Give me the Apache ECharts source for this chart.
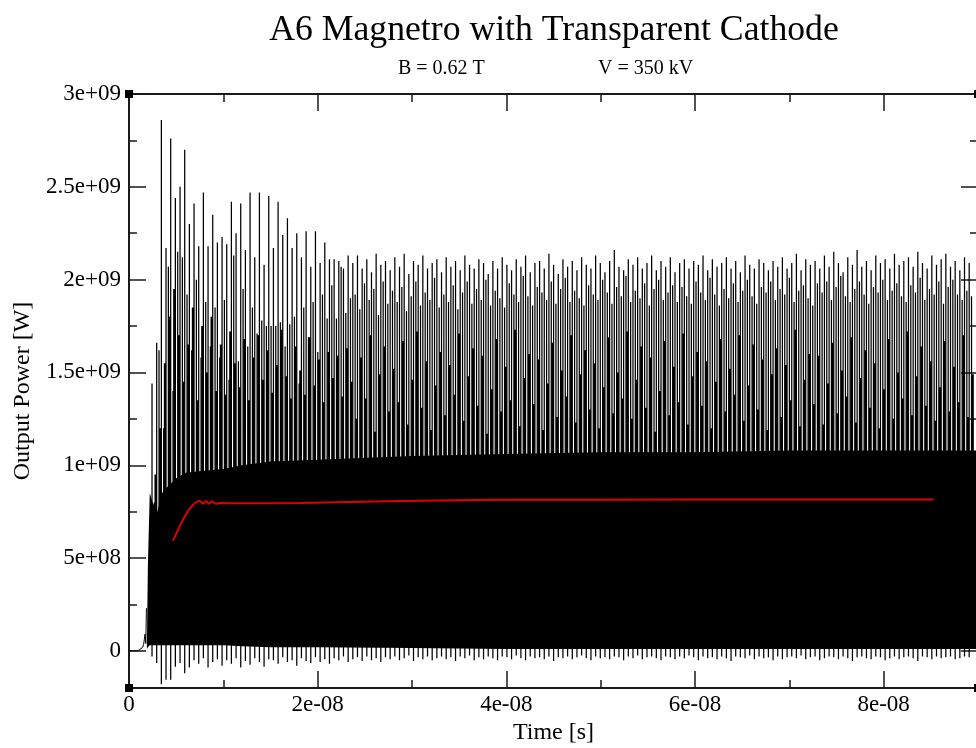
<!DOCTYPE html>
<html><head><meta charset="utf-8">
<script src="https://cdn.jsdelivr.net/npm/echarts@6/dist/echarts.min.js"></script>
<style>html,body{margin:0;padding:0;background:#fff}#c{width:976px;height:748px}</style>
</head><body><div id="c"></div>
<script>
// ---------- data (times in ns, powers in 1e8 W) ----------
const xMajorTicks = [0, 2, 4, 6, 8];          // x 1e-8
const xMinorTicks = [1, 3, 5, 7, 9];
const yMajorTicks = [0, 5, 10, 15, 20, 25, 30]; // y 1e8
const yMinorTicks = [2.5, 7.5, 12.5, 17.5, 22.5, 27.5];

// start-up trace before oscillation
const preT = [0, 0.8, 1.1, 1.3, 1.45, 1.55, 1.62, 1.7, 1.78, 1.85];
const preV = [0, 0, 0.05, 0.1, 0.2, 0.35, 0.6, 0.9, 0.4, 2.3];

// solid (unresolved) oscillation band
const bandT   = [1.9, 2.0, 2.2, 2.5, 3.0, 3.5, 4.0, 5.0, 6.0, 8.0, 10, 12, 15, 20, 30, 40, 50, 60, 70, 80, 90];
const bandTop = [0.4, 4.5, 8.5, 8.0, 7.5, 8.5, 8.8, 9.3, 9.6, 9.7, 9.8, 10.0, 10.2, 10.3, 10.5, 10.6, 10.7, 10.7, 10.8, 10.8, 10.8];
const bandBot = [0.1, 0.2, 0.3, 0.3, 0.3, 0.3, 0.3, 0.3, 0.3, 0.3, 0.3, 0.25, 0.2, 0.2, 0.15, 0.1, 0.1, 0.1, 0.1, 0.1, 0.1];

// resolved spikes: one slot per RF period
const spikeT0 = 2.44;   // ns
const spikeDT = 0.495;  // ns
const tallPeaks = [
14.4,16.6,28.6,21.7,27.6,24.4,25.0,27.0,23.0,24.1,
21.8,24.7,21.8,23.5,22.0,22.3,21.9,24.2,22.5,24.1,
21.6,24.7,21.2,24.7,20.8,24.5,21.7,24.2,22.4,23.3,
21.7,22.5,21.2,22.6,20.7,22.6,20.9,22.0,21.1,21.1,
21.0,20.6,21.3,
20.9,21.3,20.6,21.1,20.4,21.4,20.8,21.0,20.5,21.2,
20.7,21.4,20.3,21.0,20.8,21.3,20.6,20.9,21.1,20.4,
21.2,20.7,21.0,20.5,21.3,20.8,20.6,21.1,20.9,20.3,
21.0,20.6,21.2,20.8,20.5,21.1,20.7,21.3,20.4,20.9,
21.0,20.6,21.4,20.8,20.3,21.1,20.7,21.0,20.5,21.2,
20.8,20.6,21.3,20.9,20.4,21.0,21.6,20.7,20.5,21.1,
20.8,21.2,20.6,20.9,21.3,20.5,21.0,20.7,21.2,20.4,
20.9,21.1,20.6,21.0,20.8,21.3,20.5,21.1,20.7,20.9,
21.2,20.6,21.0,20.4,21.3,20.8,20.6,21.1,20.9,20.5,
21.0,20.7,21.2,20.6,20.9,21.4,20.5,21.1,20.8,21.0,
20.6,21.3,20.7,21.5,20.9,20.4,21.2,20.8,21.6,20.7,
21.0,20.5,21.3,20.9,21.1,20.6,21.4,20.8,21.0,21.2,
20.7,21.5,20.9,20.6,21.3,20.8,21.1,21.4,20.7,21.0,20.5,21.2,20.9];
const midPeaks = [
8.0,16.2,12.0,20.7,14.0,21.5,21.2,19.2,16.2,20.0,
15.8,18.8,16.4,18.5,15.8,18.9,14.6,21.3,15.6,19.5,
16.4,18.5,17.1,17.8,17.5,17.5,17.5,17.7,16.4,17.6,
18.0,14.4,18.5,16.9,18.8,16.1,19.2,17.9,19.7,17.9,
20.7,18.2,19.0,
19.2,18.4,19.8,18.9,19.5,18.1,19.9,18.7,19.4,18.8,
19.6,18.3,19.1,19.9,18.6,19.3,18.9,20.1,18.5,19.2,
18.8,19.7,18.4,19.3,19.9,18.7,19.5,18.9,20.0,18.6,
19.4,19.0,18.5,19.8,19.2,18.8,20.2,19.1,18.6,19.6,
19.3,18.9,19.9,18.7,19.5,20.1,18.8,19.4,19.0,18.6,
19.7,19.2,18.9,20.0,19.3,18.7,19.6,19.1,20.2,18.8,
19.4,19.0,19.8,18.6,19.5,20.0,18.9,19.3,19.7,18.8,
19.6,19.1,18.7,19.9,19.3,18.9,20.1,19.2,18.6,19.5,
19.0,19.8,18.8,19.4,20.0,19.1,18.7,19.6,19.3,19.9,
18.9,19.5,19.2,20.1,18.8,19.4,19.7,19.0,18.6,19.8,
19.3,19.9,18.9,19.6,20.2,19.1,18.8,19.5,19.9,19.2,
18.7,19.6,19.3,20.0,18.9,19.4,19.8,19.1,18.8,19.7,
19.3,20.1,18.9,19.5,19.2,19.9,18.7,19.6,20.0,19.2,18.9,19.4,19.1];
const lowPeaks = [
9.5,12.0,15.5,18.0,19.5,17.0,14.5,16.5,18.5,13.5,
17.5,15.0,18.0,14.0,16.5,13.8,17.2,15.5,14.2,16.8,
13.5,15.8,17.0,14.6,16.2,13.9,15.4,17.3,14.8,13.6,
16.4,15.1,13.8,16.9,14.3,15.7,13.4,16.1,14.7,15.9,
13.7,16.3,14.5,
12.5,15.8,13.6,17.0,11.8,14.9,16.4,12.9,15.2,13.4,
16.7,12.2,14.6,17.2,13.1,15.6,11.9,14.3,16.1,12.7,
15.4,13.8,17.1,12.4,14.8,16.3,13.2,15.9,11.7,14.1,
16.8,12.9,15.3,13.5,17.3,12.1,14.7,16.0,13.3,15.7,
11.9,14.4,16.6,12.6,15.1,13.7,17.0,12.3,14.9,16.2,
13.0,15.5,12.0,14.2,16.9,12.8,15.0,13.6,17.2,12.5,
14.6,16.4,13.1,15.8,11.8,14.0,16.7,12.7,15.3,13.4,
17.1,12.2,14.8,16.1,13.2,15.6,12.0,14.5,16.8,12.9,
15.2,13.8,17.0,12.4,14.3,16.5,13.0,15.7,11.9,14.9,
16.3,12.6,15.4,13.5,17.3,12.1,14.6,16.0,13.3,15.9,
12.2,14.4,16.6,12.8,15.1,13.7,16.9,12.3,14.7,16.2,
13.1,15.5,12.0,14.1,16.8,12.5,15.0,13.6,17.2,12.7,
14.8,16.4,13.2,15.6,12.4,14.2,16.7,12.9,15.3,13.4,
17.0,12.6,14.9];
const dips = [
-0.3,-0.65,-1.8,-1.56,-1.56,-0.85,-0.65,-1.2,-0.9,-0.5,
-0.7,-0.4,-0.9,-0.6,-0.45,-0.8,-0.5,-0.7,-0.4,-0.9,
-0.55,-0.75,-0.4,-0.6,-0.85,-0.45,-0.5,-0.7,-0.35,-0.6,
-0.5,-0.8,-0.4,-0.55,-0.65,-0.35,-0.6,-0.45,-0.7,-0.4,
-0.5,-0.3,-0.6,-0.45,-0.35,-0.55,-0.3,-0.5,-0.4,-0.6,
-0.35,-0.45,-0.3,-0.5,-0.4,-0.25,-0.55,-0.35,-0.45,-0.3,
-0.5,-0.4,-0.3,-0.45,-0.35,-0.55,-0.3,-0.4,-0.25,-0.5,
-0.35,-0.45,-0.3,-0.4,-0.5,-0.3,-0.35,-0.45,-0.25,-0.4,
-0.5,-0.3,-0.4,-0.35,-0.45,-0.3,-0.55,-0.35,-0.4,-0.3,
-0.45,-0.35,-0.25,-0.4,-0.5,-0.3,-0.4,-0.35,-0.45,-0.3,
-0.35,-0.5,-0.3,-0.4,-0.25,-0.45,-0.35,-0.3,-0.4,-0.5,
-0.3,-0.35,-0.45,-0.3,-0.4,-0.25,-0.35,-0.5,-0.3,-0.4,
-0.35,-0.45,-0.3,-0.4,-0.55,-0.3,-0.35,-0.4,-0.25,-0.45,
-0.3,-0.4,-0.35,-0.5,-0.3,-0.45,-0.35,-0.3,-0.4,-0.25,
-0.45,-0.35,-0.3,-0.5,-0.4,-0.3,-0.35,-0.45,-0.3,-0.4,
-0.55,-0.35,-0.3,-0.4,-0.45,-0.3,-0.35,-0.5,-0.4,-0.3,
-0.45,-0.35,-0.3,-0.4,-0.55,-0.3,-0.35,-0.45,-0.3,-0.4,
-0.35,-0.3,-0.45,-0.4,-0.3,-0.35];

// running average (red)
const avgT = [4.66,5.19,5.72,6.25,6.78,7.2,7.52,7.84,8.15,8.47,8.79,9.21,9.64,10.7,12.8,18.1,28.7,39.3,49.9,60.5,71.0,85.3];
const avgV = [5.93,6.52,7.06,7.54,7.87,8.03,8.08,7.92,8.08,7.92,8.06,7.92,7.97,7.95,7.95,7.97,8.08,8.14,8.14,8.16,8.16,8.16];

// ---------- build ----------
const NS = 1e-9, P = 1e8;
const FONT = '"Liberation Serif", "Times New Roman", serif';
function sci(v){
  if (Math.abs(v) < 1e-30) return '0';
  const s = Number(v.toPrecision(6)).toExponential();
  const parts = s.split('e');
  let sign = parts[1][0], d = parts[1].slice(1);
  if (d.length < 2) d = '0' + d;
  return parts[0] + 'e' + sign + d;
}
const XMIN = 0, XMAX = 9e-8, YMIN = -2e8, YMAX = 3e9;
const xMaj = xMajorTicks.map(v => v * 1e-8);
const xMin = xMinorTicks.map(v => v * 1e-8);
const yMaj = yMajorTicks.map(v => v * P);
const yMin = yMinorTicks.map(v => v * P);

const prePts = preT.map((t, i) => [t * NS, preV[i] * P]);
const bandPoly = bandT.map((t, i) => [t * NS, bandTop[i] * P])
  .concat(bandT.map((t, i) => [t * NS, bandBot[i] * P]).reverse());
const BASE = 5e8;
const spikePts = [], lowPts = [];
for (let i = 0; i < tallPeaks.length; i++) {
  const t = (spikeT0 + i * spikeDT) * NS;
  spikePts.push([t, BASE], [t, tallPeaks[i] * P], [t, dips[i] * P], [t, BASE]);
  const tm = t + spikeDT * NS * 0.5;
  spikePts.push([tm, BASE], [tm, midPeaks[i] * P], [tm, BASE]);
  const tl = t + spikeDT * NS * 0.76;
  lowPts.push([tl, BASE], [tl, lowPeaks[i] * P], [tl, BASE]);
}
const avgPts = avgT.map((t, i) => [t * NS, avgV[i] * P]);

const AX = '#1a1a1a';
function xAxisDef(pos, vals, len, withLabel, withLine) {
  return {
    type: 'value', position: pos, min: XMIN, max: XMAX,
    axisLine: { show: withLine, onZero: false, lineStyle: { color: AX, width: 2 } },
    axisTick: { show: true, inside: true, length: len, customValues: vals, lineStyle: { color: AX, width: 1.5 } },
    axisLabel: withLabel ? { show: true, customValues: vals, formatter: sci, fontFamily: FONT, fontSize: 23, color: '#000', margin: 5 } : { show: false },
    splitLine: { show: false }, minorTick: { show: false },
    name: withLabel ? 'Time [s]' : '', nameLocation: 'middle', nameGap: 33,
    nameTextStyle: { fontFamily: FONT, fontSize: 24, color: '#000' }
  };
}
function yAxisDef(pos, vals, len, withLabel, withLine) {
  return {
    type: 'value', position: pos, min: YMIN, max: YMAX,
    axisLine: { show: withLine, onZero: false, lineStyle: { color: AX, width: 2 } },
    axisTick: { show: true, inside: true, length: len, customValues: vals, lineStyle: { color: AX, width: 1.5 } },
    axisLabel: withLabel ? { show: true, customValues: vals, formatter: sci, fontFamily: FONT, fontSize: 23, color: '#000', margin: 8 } : { show: false },
    splitLine: { show: false }, minorTick: { show: false },
    name: withLabel ? 'Output Power [W]' : '', nameLocation: 'middle', nameGap: 89,
    nameTextStyle: { fontFamily: FONT, fontSize: 24, color: '#000' }
  };
}

const chart = echarts.init(document.getElementById('c'), null, { renderer: 'canvas' });
const G = { left: 129, top: 94, right: -2, bottom: 60 };
chart.setOption({
  animation: false,
  backgroundColor: '#fff',
  grid: { left: G.left, top: G.top, right: G.right, bottom: G.bottom, containLabel: false, outerBoundsMode: 'none' },
  xAxis: [
    xAxisDef('bottom', xMaj, 17, true, true),
    xAxisDef('bottom', xMin, 8, false, false),
    xAxisDef('top', xMaj, 17, false, true),
    xAxisDef('top', xMin, 8, false, false)
  ],
  yAxis: [
    yAxisDef('left', yMaj, 17, true, true),
    yAxisDef('left', yMin, 8, false, false),
    yAxisDef('right', yMaj, 17, false, true),
    yAxisDef('right', yMin, 8, false, false)
  ],
  series: [
    { type: 'line', data: prePts, showSymbol: false, symbol: 'none', z: 3,
      lineStyle: { color: '#000', width: 1 } },
    { type: 'custom', data: [[0, 0]], z: 2, clip: true, silent: true,
      renderItem: function (params, api) {
        return { type: 'polygon', shape: { points: bandPoly.map(p => api.coord(p)) }, style: { fill: '#000', stroke: null } };
      } },
    { type: 'line', data: lowPts, showSymbol: false, symbol: 'none', z: 3, sampling: null,
      lineStyle: { color: '#000', width: 2.2 } },
    { type: 'line', data: spikePts, showSymbol: false, symbol: 'none', z: 3, sampling: null,
      lineStyle: { color: '#000', width: 1.25 } },
    { type: 'line', data: avgPts, showSymbol: false, symbol: 'none', z: 4,
      lineStyle: { color: '#e00000', width: 2 } }
  ],
  graphic: [
    { type: 'text', x: 554, y: 31, style: { text: 'A6 Magnetro with Transparent Cathode', font: '35.7px ' + FONT, fill: '#000', textAlign: 'center', textVerticalAlign: 'middle', align: 'center', verticalAlign: 'middle' } },
    { type: 'text', x: 398, y: 69, style: { text: 'B = 0.62 T', font: '20px ' + FONT, fill: '#000', textAlign: 'left', textVerticalAlign: 'middle', align: 'left', verticalAlign: 'middle' } },
    { type: 'text', x: 598, y: 69, style: { text: 'V = 350 kV', font: '20px ' + FONT, fill: '#000', textAlign: 'left', textVerticalAlign: 'middle', align: 'left', verticalAlign: 'middle' } }
  ]
});
// corner handles of the graph frame
const corners = [[XMIN, YMAX], [XMIN, YMIN], [XMAX, YMAX], [XMAX, YMIN]].map(c => chart.convertToPixel({ xAxisIndex: 0, yAxisIndex: 0 }, c));
const g = chart.getOption().graphic[0].elements.slice();
corners.forEach(p => g.push({ type: 'rect', shape: { x: p[0] - 4, y: p[1] - 4, width: 8, height: 8 }, style: { fill: '#000' }, z: 100 }));
chart.setOption({ graphic: g });
</script></body></html>
